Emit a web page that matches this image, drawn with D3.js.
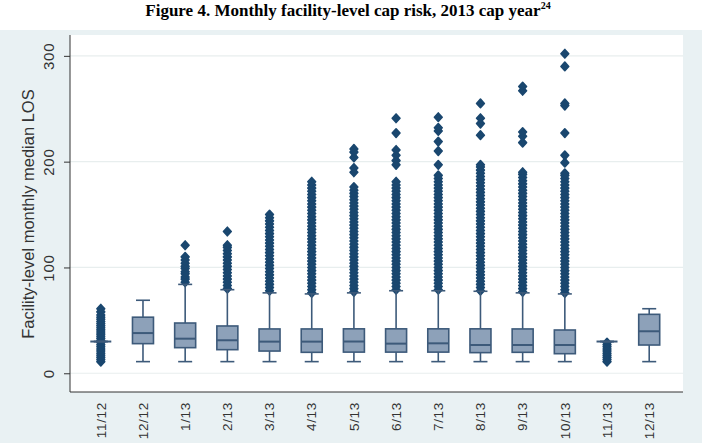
<!DOCTYPE html>
<html>
<head>
<meta charset="utf-8">
<script src="https://cdn.jsdelivr.net/npm/d3@7"></script>
<style>
  body { margin: 0; background: #fff; }
  svg { display: block; }
</style>
</head>
<body>
<div id="chart"></div>
<script>
// month categories and box statistics
const months = ["11/12", "12/12", "1/13", "2/13", "3/13", "4/13", "5/13", "6/13", "7/13", "8/13", "9/13", "10/13", "11/13", "12/13"];
const medians = [30, 38, 32.7, 31.2, 29.9, 29.9, 30, 28, 28.3, 26.7, 26.7, 26.7, 30, 39.7];
const q1 = [30, 28, 24.2, 22.3, 21, 19.8, 20, 20, 20, 19.5, 19.8, 18.5, 30, 26.7];
const q3 = [30, 53, 47.5, 44.7, 41.9, 41.9, 42, 42, 42, 42, 41.9, 40.9, 30, 55.7];
const whiskerLow = [30, 11, 11, 11, 11, 11, 11, 11, 11, 11, 11, 11, 30, 11];
const whiskerHigh = [30, 69, 84, 79, 76, 75, 76, 78, 78, 77.5, 76, 75, 30, 61];
const outliers = [
  [11, 13, 15, 17, 19, 21, 23, 25, 27, 29, 31, 33, 35, 37, 39, 41, 43, 45, 47, 49, 51, 53, 55, 58, 61],
  [],
  [86, 89, 91, 94, 96, 99, 101, 104, 107, 110, 121],
  [80, 83, 86, 89, 92, 95, 98, 101, 104, 107, 110, 113, 116, 119, 121, 134],
  [78, 81, 84, 87, 90, 93, 96, 99, 102, 105, 108, 111, 114, 117, 120, 123, 126, 129, 132, 135, 138, 141, 144, 147, 150],
  [76, 79, 82, 85, 88, 91, 94, 97, 100, 103, 106, 109, 112, 115, 118, 121, 124, 127, 130, 133, 136, 139, 142, 145, 148, 151, 154, 157, 160, 163, 166, 169, 172, 175, 178, 181],
  [77, 80, 83, 86, 89, 92, 95, 98, 101, 104, 107, 110, 113, 116, 119, 122, 125, 128, 131, 134, 137, 140, 143, 146, 149, 152, 155, 158, 161, 164, 167, 170, 173, 176, 190, 194, 204, 209, 212],
  [79, 82, 85, 88, 91, 94, 97, 100, 103, 106, 109, 112, 115, 118, 121, 124, 127, 130, 133, 136, 139, 142, 145, 148, 151, 154, 157, 160, 163, 166, 169, 172, 175, 178, 181, 197, 201, 206, 211, 227, 241],
  [79, 82, 85, 88, 91, 94, 97, 100, 103, 106, 109, 112, 115, 118, 121, 124, 127, 130, 133, 136, 139, 142, 145, 148, 151, 154, 157, 160, 163, 166, 169, 172, 175, 178, 181, 184, 187, 197, 210, 219, 229, 232, 242],
  [78, 81, 84, 87, 90, 93, 96, 99, 102, 105, 108, 111, 114, 117, 120, 123, 126, 129, 132, 135, 138, 141, 144, 147, 150, 153, 156, 159, 162, 165, 168, 171, 174, 177, 180, 183, 186, 189, 192, 195, 197, 225, 236, 241, 255],
  [77, 80, 83, 86, 89, 92, 95, 98, 101, 104, 107, 110, 113, 116, 119, 122, 125, 128, 131, 134, 137, 140, 143, 146, 149, 152, 155, 158, 161, 164, 167, 170, 173, 176, 179, 182, 185, 188, 190, 218, 224, 228, 267, 271],
  [76, 79, 82, 85, 88, 91, 94, 97, 100, 103, 106, 109, 112, 115, 118, 121, 124, 127, 130, 133, 136, 139, 142, 145, 148, 151, 154, 157, 160, 163, 166, 169, 172, 175, 178, 181, 184, 187, 189, 199, 206, 227, 253, 255, 290, 302],
  [11, 13, 15, 17, 19, 21, 23, 25, 27, 29],
  []
];
const yTicks = [0, 100, 200, 300];

const width = 702, height = 443;
const plot = { left: 70, right: 683, top: 35, bottom: 392 };

const boxColor = "#3d5a7a";
const boxFill = "#8da1b9";
const dotColor = "#1a476f";

const svg = d3.select("#chart").append("svg")
    .attr("width", width)
    .attr("height", height);

// graph region background
svg.append("rect")
    .attr("x", 0).attr("y", 30)
    .attr("width", width).attr("height", height - 30)
    .attr("fill", "#e9f1f3");

svg.append("rect")
    .attr("x", plot.left).attr("y", plot.top)
    .attr("width", plot.right - plot.left).attr("height", plot.bottom - plot.top)
    .attr("fill", "#fff");

// title
const title = svg.append("text")
    .attr("x", 348).attr("y", 16)
    .attr("text-anchor", "middle")
    .attr("font-family", "'Liberation Serif', 'Times New Roman', serif")
    .attr("font-weight", "bold")
    .attr("font-size", 17)
    .attr("fill", "#000")
    .text("Figure 4. Monthly facility-level cap risk, 2013 cap year");
title.append("tspan")
    .attr("font-size", 10)
    .attr("dy", -7)
    .text("24");

const y = d3.scaleLinear().domain([-17.7, 319.7]).range([plot.bottom, plot.top]);
const x = d3.scalePoint().domain(months).range([70, 680]).padding(0.73);

// gridlines
svg.append("g")
  .selectAll("line")
  .data(yTicks)
  .join("line")
    .attr("x1", plot.left).attr("x2", plot.right)
    .attr("y1", d => y(d)).attr("y2", d => y(d))
    .attr("stroke", "#e8eeee")
    .attr("stroke-width", 1.2);

// y axis
const yAxis = svg.append("g")
    .attr("transform", `translate(${plot.left},0)`)
    .call(d3.axisLeft(y).tickValues(yTicks).tickSize(6).tickSizeOuter(0));
yAxis.select(".domain").attr("stroke", "#333").attr("d", `M0,${plot.top}V${plot.bottom}`);
yAxis.selectAll(".tick line").attr("stroke", "#333");
yAxis.selectAll(".tick text")
    .attr("transform", "rotate(-90)")
    .attr("x", 0).attr("y", -16.5).attr("dy", 0)
    .attr("text-anchor", "middle")
    .attr("font-family", "'Liberation Sans', Arial, sans-serif")
    .attr("font-size", 15)
    .attr("letter-spacing", 0.8)
    .attr("fill", "#333");

svg.append("text")
    .attr("transform", "translate(34,214) rotate(-90)")
    .attr("text-anchor", "middle")
    .attr("font-family", "'Liberation Sans', Arial, sans-serif")
    .attr("font-size", 16.5)
    .attr("fill", "#333")
    .text("Facility-level monthly median LOS");

// x axis
svg.append("line")
    .attr("x1", plot.left).attr("x2", plot.right)
    .attr("y1", plot.bottom).attr("y2", plot.bottom)
    .attr("stroke", "#333");

svg.append("g")
  .selectAll("text")
  .data(months)
  .join("text")
    .attr("transform", d => `translate(${x(d)},402) rotate(-90)`)
    .attr("text-anchor", "end")
    .attr("dy", "0.35em")
    .attr("font-family", "'Liberation Sans', Arial, sans-serif")
    .attr("font-size", 13.5)
    .attr("letter-spacing", 0.7)
    .attr("fill", "#333")
    .text(d => d);

// outlier markers
const diamond = "M0,-4.3L3.9,0L0,4.3L-3.9,0Z";
svg.append("g")
  .selectAll("g")
  .data(months)
  .join("g")
    .attr("transform", d => `translate(${x(d)},0)`)
  .selectAll("path")
  .data((d, i) => outliers[i])
  .join("path")
    .attr("d", diamond)
    .attr("transform", v => `translate(0,${y(v)})`)
    .attr("fill", dotColor)
    .attr("stroke", dotColor)
    .attr("stroke-width", 1.6)
    .attr("stroke-linejoin", "round");

// boxes
const boxW = 21, capW = 14;
const box = svg.append("g")
    .attr("stroke", boxColor)
    .attr("stroke-width", 1.6)
  .selectAll("g")
  .data(months)
  .join("g")
    .attr("transform", d => `translate(${x(d)},0)`);

box.append("line")
    .attr("y1", (d, i) => y(whiskerLow[i])).attr("y2", (d, i) => y(q1[i]));
box.append("line")
    .attr("y1", (d, i) => y(q3[i])).attr("y2", (d, i) => y(whiskerHigh[i]));
box.append("line")
    .attr("x1", -capW / 2).attr("x2", capW / 2)
    .attr("y1", (d, i) => y(whiskerLow[i])).attr("y2", (d, i) => y(whiskerLow[i]));
box.append("line")
    .attr("x1", -capW / 2).attr("x2", capW / 2)
    .attr("y1", (d, i) => y(whiskerHigh[i])).attr("y2", (d, i) => y(whiskerHigh[i]));
box.append("rect")
    .attr("x", -boxW / 2).attr("width", boxW)
    .attr("y", (d, i) => y(q3[i]))
    .attr("height", (d, i) => y(q1[i]) - y(q3[i]))
    .attr("fill", boxFill);
box.append("line")
    .attr("x1", -boxW / 2).attr("x2", boxW / 2)
    .attr("y1", (d, i) => y(medians[i])).attr("y2", (d, i) => y(medians[i]))
    .attr("stroke-width", 2);
</script>
</body>
</html>
